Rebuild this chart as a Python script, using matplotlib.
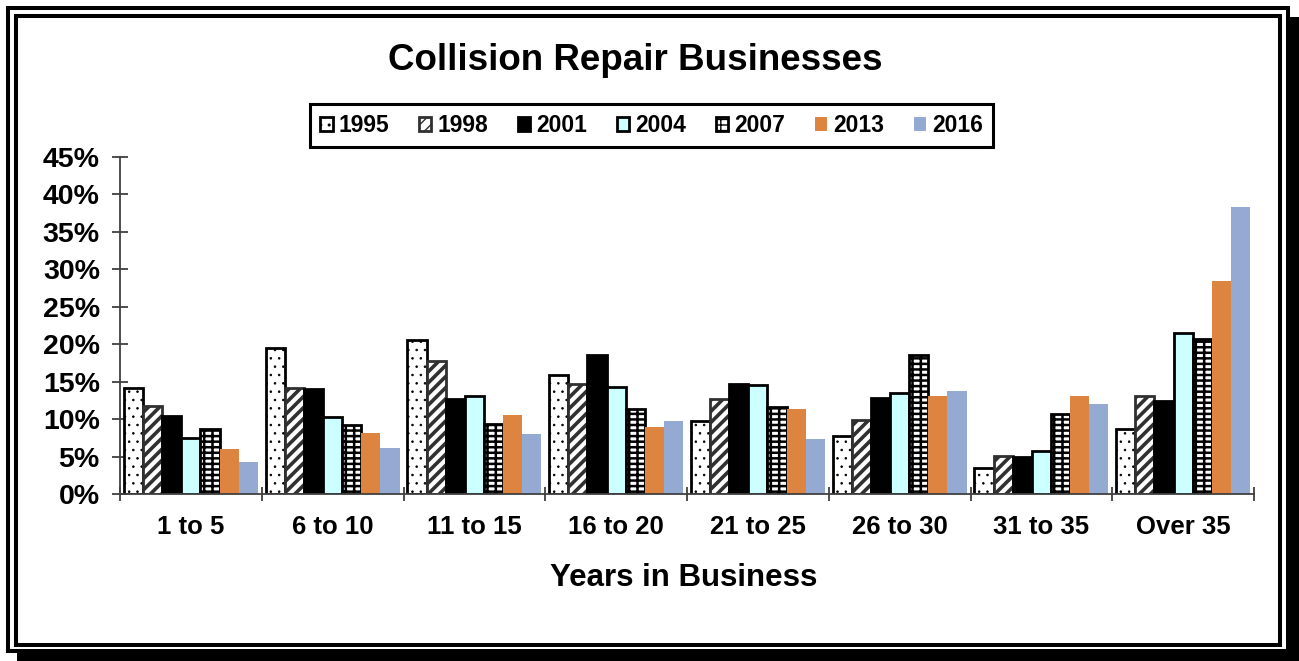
import numpy as np
import matplotlib.pyplot as plt
from matplotlib.patches import Rectangle

plt.rcParams['font.family'] = ['Liberation Sans', 'DejaVu Sans']
plt.rcParams['font.weight'] = 'bold'

# Share of businesses (%) by years in business
groups = ['1 to 5', '6 to 10', '11 to 15', '16 to 20', '21 to 25', '26 to 30', '31 to 35', 'Over 35']
years = ['1995', '1998', '2001', '2004', '2007', '2013', '2016']

s1995 = [14.1, 19.5, 20.6, 15.9, 9.7, 7.7, 3.5, 8.7]
s1998 = [11.8, 14.1, 17.8, 14.7, 12.7, 9.9, 5.1, 13.1]
s2001 = [10.4, 14.0, 12.7, 18.6, 14.7, 12.8, 4.9, 12.4]
s2004 = [7.5, 10.3, 13.1, 14.3, 14.6, 13.5, 5.7, 21.5]
s2007 = [8.7, 9.2, 9.3, 11.3, 11.6, 18.6, 10.7, 20.7]
s2013 = [6.0, 8.1, 10.5, 8.9, 11.3, 13.1, 13.1, 28.4]
s2016 = [4.3, 6.1, 8.0, 9.7, 7.3, 13.8, 12.0, 38.3]

series = [s1995, s1998, s2001, s2004, s2007, s2013, s2016]
styles = [
    dict(facecolor='white', edgecolor='black', hatch='..', linewidth=2),
    dict(facecolor='white', edgecolor='#303030', hatch='///', linewidth=2),
    dict(facecolor='black', edgecolor='black', linewidth=2),
    dict(facecolor='#CCFFFF', edgecolor='black', linewidth=2),
    dict(facecolor='white', edgecolor='black', hatch='---||', linewidth=2),
    dict(facecolor='#DC8440', edgecolor='none', linewidth=0),
    dict(facecolor='#94AAD2', edgecolor='none', linewidth=0),
]
hatch_lw = [0.6, 2.6, 1.0, 1.0, 1.8, 1.0, 1.0]

W, H = 1299, 661
fig = plt.figure(figsize=(W / 100, H / 100), dpi=100)

# double frame with drop shadow
fig.patches.append(Rectangle((17 / W, 0), (W - 17) / W, (H - 17) / H,
                             transform=fig.transFigure, facecolor='black',
                             edgecolor='none', zorder=-3))
fig.patches.append(Rectangle((8 / W, 1 - 651 / H), 1280 / W, 643 / H,
                             transform=fig.transFigure, facecolor='white',
                             edgecolor='black', linewidth=2.9, zorder=-2))
fig.patches.append(Rectangle((16 / W, 1 - 645 / H), 1264 / W, 629 / H,
                             transform=fig.transFigure, facecolor='none',
                             edgecolor='black', linewidth=2.9, zorder=-1))

ax = fig.add_axes([120 / W, 1 - 494 / H, 1134 / W, 337 / H])
ax.set_facecolor('none')

x = np.arange(len(groups))
w = 0.135
for j, (vals, st) in enumerate(zip(series, styles)):
    bars = ax.bar(x + (j - 3) * w, vals, width=w, label=years[j], zorder=2, **st)
    for b in bars:
        b.set_hatch_linewidth(hatch_lw[j])

ax.set_xlim(-0.5, len(groups) - 0.5)
ax.set_ylim(0, 45)
ax.set_yticks(np.arange(0, 46, 5))
ax.set_yticklabels([f'{v}%' for v in range(0, 46, 5)], fontsize=20.5, fontweight='bold')
ax.set_xticks(x)
ax.set_xticklabels(groups, fontsize=18.5, fontweight='bold')
ax.set_xticks(np.arange(-0.5, len(groups), 1), minor=True)

for side in ['top', 'right']:
    ax.spines[side].set_visible(False)
for side in ['left', 'bottom']:
    ax.spines[side].set_color('#404040')
    ax.spines[side].set_linewidth(1.3)

ax.tick_params(axis='y', direction='inout', length=11, width=1.3, color='#404040', pad=9)
ax.tick_params(axis='x', which='major', length=0, pad=15)
ax.tick_params(axis='x', which='minor', direction='inout', length=10, width=1.3, color='#404040')

fig.text(635 / W, 1 - 60 / H, 'Collision Repair Businesses', ha='center', va='center',
         fontsize=26.5, fontweight='bold')
fig.text(684 / W, 1 - 578 / H, 'Years in Business', ha='center', va='center',
         fontsize=22.5, fontweight='bold')

leg = fig.legend(loc='center', bbox_to_anchor=(651.5 / W, 1 - 125.5 / H), ncol=7,
                 prop={'weight': 'bold', 'size': 16.5},
                 handlelength=0.55, handleheight=0.55, handletextpad=0.25,
                 columnspacing=1.3, borderpad=0.45, fancybox=False, framealpha=1)
leg.get_frame().set_edgecolor('black')
leg.get_frame().set_linewidth(2.2)
for h in leg.get_patches():
    h.set_hatch_linewidth(1.0)

fig.savefig('out.png', dpi=100)
